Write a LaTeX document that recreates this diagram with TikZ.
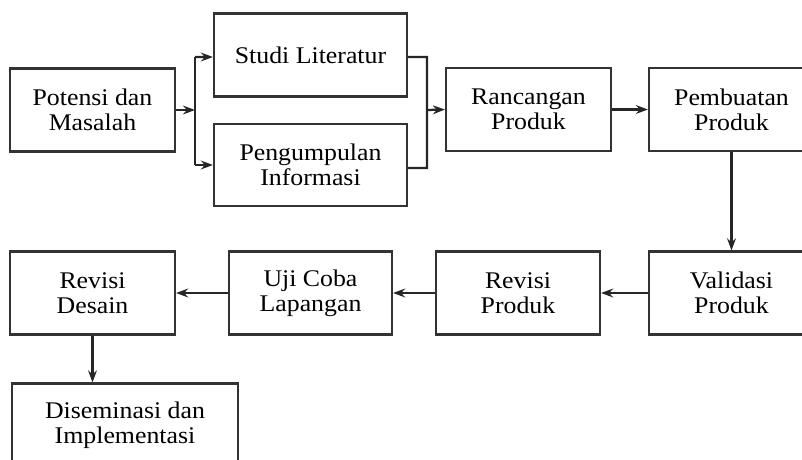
\documentclass[tikz,border=0pt]{standalone}
\usepackage{fontspec}
\setmainfont{Liberation Serif}[FakeStretch=1.08]
\usetikzlibrary{arrows.meta}

\begin{document}
\begin{tikzpicture}[x=0.025cm,y=-0.025cm,
  box/.style={draw=black!80,line width=1.5pt,rectangle,align=center,minimum width=4.125cm,minimum height=2.075cm,inner sep=0pt,font=\fontsize{17}{18}\selectfont},
  arr/.style={-{Stealth[length=0.3cm,width=0.22cm]},line width=1.6pt,draw=black!85},
  lin/.style={line width=1.6pt,draw=black!85}]
\clip (0,0) rectangle (802,460);
% top row
\node[box] (pot) at (92.5,110) {Potensi dan\\Masalah};
\node[box,minimum width=4.825cm] (studi) at (310.5,55) {Studi Literatur};
\node[box,minimum width=4.825cm,minimum height=2.05cm] (info) at (310.5,165) {Pengumpulan\\Informasi};
\node[box] (ranc) at (528.5,109.5) {Rancangan\\Produk};
\node[box] (buat) at (731.5,109.5) {Pembuatan\\Produk};
% bottom row
\node[box] (valid) at (731.5,293) {Validasi\\Produk};
\node[box,minimum width=4.1cm] (revprod) at (518,293) {Revisi\\Produk};
\node[box,minimum width=4.075cm] (uji) at (310.5,293) {Uji Coba\\Lapangan};
\node[box] (revdes) at (92.5,293) {Revisi\\Desain};
\node[box,minimum width=5.65cm] (disem) at (125,425) {Diseminasi dan\\Implementasi};
% branch and merge
\coordinate (split) at (195,110);
\coordinate (merge) at (427,110);
\draw[arr] (pot.east) -- (split);
\draw[arr] (split |- 0,57) -- ([yshift=-0.05cm]studi.west);
\draw[arr] (split |- 0,165) -- (info.west);
\draw[lin] (split |- 0,57) -- (split |- 0,165);
\draw[lin] ([yshift=-0.05cm]studi.east) -| (merge |- 0,168) -- ([yshift=-0.075cm]info.east);
\draw[arr] (merge) -- (ranc.west);
\draw[arr] (ranc) -- (buat);
\draw[arr] (buat) -- (valid);
\draw[arr] (valid) -- (revprod);
\draw[arr] (revprod) -- (uji);
\draw[arr] (uji) -- (revdes);
\draw[arr] (revdes.south) -- (revdes.south |- disem.north);
\end{tikzpicture}
\end{document}
